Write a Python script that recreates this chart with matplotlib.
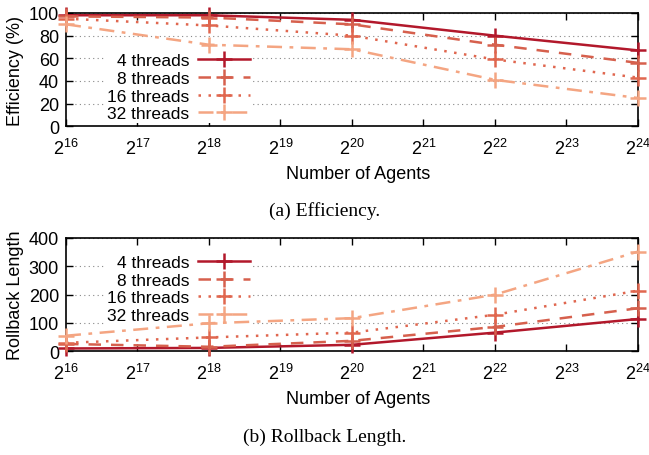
import math

import matplotlib
matplotlib.use("Agg")
import matplotlib.pyplot as plt
from matplotlib.ticker import FixedLocator, FuncFormatter

plt.rcParams["font.family"] = ["Liberation Sans", "DejaVu Sans"]
plt.rcParams["mathtext.fontset"] = "custom"
plt.rcParams["mathtext.rm"] = "Liberation Sans"
plt.rcParams["mathtext.it"] = "Liberation Sans"

# number of agents as powers of two
exponents = [16, 18, 20, 22, 24]
labels = ["4 threads", "8 threads", "16 threads", "32 threads"]

efficiency = {
    "4 threads": [98, 98, 94, 80, 67],
    "8 threads": [97, 96, 90, 72, 56],
    "16 threads": [95, 89, 80, 59, 43],
    "32 threads": [90, 72, 68, 41, 25],
}
rollback = {
    "4 threads": [10, 12, 23, 66, 114],
    "8 threads": [26, 16, 37, 86, 152],
    "16 threads": [30, 49, 66, 129, 214],
    "32 threads": [55, 99, 117, 200, 352],
}

colors = ["#b2182b", "#d6604d", "#e0674f", "#f4a582"]
styles = ["-", (0, (5, 4)), (0, (1, 3)), (0, (6, 3, 1.5, 3))]

fig = plt.figure(figsize=(6.49, 4.56), dpi=100)
ax1 = fig.add_axes([0.1017, 0.7208, 0.8813, 0.2485])
ax2 = fig.add_axes([0.1017, 0.2274, 0.8813, 0.2485])


def draw(ax, data, ymax, ystep, ylabel, leg_top):
    for lab, c, ls in zip(labels, colors, styles):
        ax.plot([2 ** e for e in exponents], data[lab], color=c, linestyle=ls,
                linewidth=1.8, marker="+", markersize=12, markeredgewidth=1.8,
                label=lab, clip_on=False, zorder=3)
    ax.set_xscale("log", base=2)
    ax.set_xlim(2 ** 16, 2 ** 24)
    ax.set_ylim(0, ymax)
    ax.xaxis.set_major_locator(FixedLocator([2 ** e for e in range(16, 25)]))
    ax.xaxis.set_minor_locator(FixedLocator([]))
    ax.xaxis.set_major_formatter(FuncFormatter(
        lambda v, p: r"$\mathregular{2^{%d}}$" % round(math.log2(v))))
    ax.set_yticks(range(0, ymax + 1, ystep))
    ax.tick_params(direction="in", top=True, right=True, length=5, width=1,
                   labelsize=13, pad=5)
    ax.tick_params(axis="x", pad=8)
    ax.grid(axis="y", color="#888888", linestyle=(0, (1, 3)), linewidth=0.8)
    for s in ax.spines.values():
        s.set_linewidth(1.2)
    ax.set_xlabel("Number of Agents", fontsize=13)
    ax.xaxis.set_label_coords(0.51, -0.34)
    ax.set_ylabel(ylabel, fontsize=13)
    ax.yaxis.set_label_coords(-0.073, 0.5)
    leg = ax.legend(loc="upper right", bbox_to_anchor=(0.325, leg_top),
                    markerfirst=False, fontsize=12.5, handlelength=3.0,
                    labelspacing=0.14, borderpad=0.1, handletextpad=0.5,
                    frameon=True, fancybox=False, edgecolor="none",
                    facecolor="white", framealpha=1.0, borderaxespad=0.0)
    leg.set_zorder(2)


draw(ax1, efficiency, 100, 20, "Efficiency (%)", 0.66)
draw(ax2, rollback, 400, 100, "Rollback Length", 0.865)

fig.text(0.5, 0.537, "(a) Efficiency.", family="Liberation Serif",
         fontsize=14, ha="center", va="center")
fig.text(0.5, 0.042, "(b) Rollback Length.", family="Liberation Serif",
         fontsize=14, ha="center", va="center")

fig.savefig("out.png", dpi=100)
